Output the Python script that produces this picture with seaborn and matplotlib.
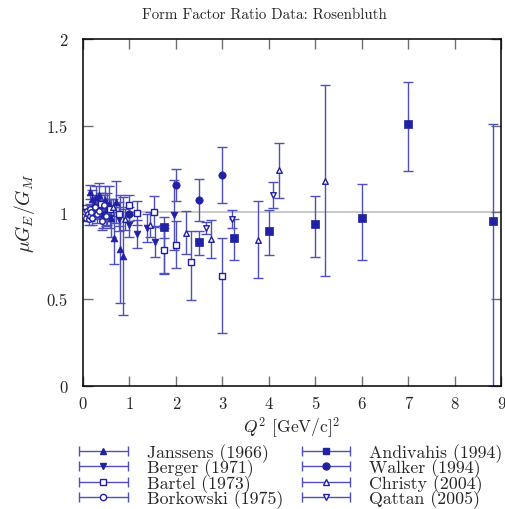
import numpy as np
import pandas as pd
import matplotlib
matplotlib.use("Agg")
import matplotlib.pyplot as plt
import seaborn as sns
from matplotlib.lines import Line2D
from matplotlib.legend_handler import HandlerBase
from matplotlib.ticker import FuncFormatter

# ============================================================
# Data
# ============================================================
janssens_q2 = [0.16, 0.19, 0.23, 0.27, 0.31, 0.35, 0.39, 0.43, 0.47, 0.51, 0.55, 0.60, 0.66, 0.70, 0.79, 0.86]
janssens_r = [1.12, 1.08, 1.05, 1.09, 1.03, 1.10, 1.04, 0.99, 1.07, 1.02, 1.05, 0.97, 0.85, 1.06, 0.79, 0.75]
janssens_lo = [0.04, 0.05, 0.05, 0.06, 0.06, 0.07, 0.07, 0.08, 0.08, 0.09, 0.10, 0.11, 0.15, 0.12, 0.31, 0.34]
janssens_hi = [0.04, 0.05, 0.05, 0.06, 0.06, 0.07, 0.07, 0.08, 0.08, 0.09, 0.10, 0.11, 0.15, 0.12, 0.31, 0.34]

berger_q2 = [0.39, 0.58, 0.78, 1.00, 1.17, 1.37, 1.56, 1.75, 1.95]
berger_r = [1.03, 0.97, 0.96, 0.93, 0.875, 0.91, 0.83, 0.78, 0.985]
berger_lo = [0.05, 0.06, 0.07, 0.07, 0.08, 0.08, 0.09, 0.13, 0.20]
berger_hi = [0.05, 0.06, 0.07, 0.07, 0.08, 0.08, 0.09, 0.13, 0.20]

bartel_q2 = [0.39, 0.58, 0.78, 1.00, 1.17, 1.52, 1.75, 2.00, 2.33, 3.00]
bartel_r = [1.05, 1.02, 0.99, 1.043, 0.995, 1.004, 0.785, 0.814, 0.712, 0.635]
bartel_lo = [0.06, 0.06, 0.07, 0.06, 0.07, 0.09, 0.14, 0.135, 0.22, 0.33]
bartel_hi = [0.06, 0.06, 0.07, 0.06, 0.07, 0.09, 0.14, 0.135, 0.18, 0.22]

borkowski_q2 = [0.02, 0.04, 0.06, 0.08, 0.10, 0.12, 0.14, 0.16, 0.18, 0.20, 0.25, 0.30, 0.35, 0.40, 0.45, 0.50]
borkowski_r = [0.98, 1.00, 0.97, 1.01, 0.99, 0.96, 1.02, 0.98, 1.00, 0.97, 1.03, 0.99, 1.01, 0.95, 1.04, 0.98]
borkowski_lo = [0.02, 0.02, 0.02, 0.03, 0.03, 0.03, 0.03, 0.03, 0.04, 0.04, 0.04, 0.05, 0.05, 0.05, 0.06, 0.06]
borkowski_hi = [0.02, 0.02, 0.02, 0.03, 0.03, 0.03, 0.03, 0.03, 0.04, 0.04, 0.04, 0.05, 0.05, 0.05, 0.06, 0.06]

andivahis_q2 = [1.75, 2.50, 3.25, 4.00, 5.00, 6.00, 7.00, 8.83]
andivahis_r = [0.914, 0.827, 0.851, 0.894, 0.933, 0.968, 1.51, 0.95]
andivahis_lo = [0.06, 0.073, 0.126, 0.138, 0.19, 0.24, 0.273, 0.95]
andivahis_hi = [0.06, 0.068, 0.109, 0.122, 0.162, 0.198, 0.244, 0.56]

walker_q2 = [1.00, 2.00, 2.50, 3.00]
walker_r = [0.99, 1.158, 1.071, 1.217]
walker_lo = [0.04, 0.09, 0.12, 0.16]
walker_hi = [0.04, 0.09, 0.12, 0.16]

christy_q2 = [0.65, 0.90, 1.45, 2.22, 2.76, 3.76, 4.21, 5.22]
christy_r = [1.03, 0.96, 0.93, 0.883, 0.847, 0.843, 1.243, 1.183]
christy_lo = [0.05, 0.06, 0.07, 0.125, 0.11, 0.22, 0.16, 0.55]
christy_hi = [0.05, 0.06, 0.07, 0.125, 0.11, 0.22, 0.16, 0.55]

qattan_q2 = [2.64, 3.20, 4.10]
qattan_r = [0.908, 0.962, 1.100]
qattan_lo = [0.035, 0.05, 0.077]
qattan_hi = [0.035, 0.05, 0.077]

# label, marker, filled
series = [
    ("Janssens (1966)", "^", True, janssens_q2, janssens_r, janssens_lo, janssens_hi),
    ("Berger (1971)", "v", True, berger_q2, berger_r, berger_lo, berger_hi),
    ("Bartel (1973)", "s", False, bartel_q2, bartel_r, bartel_lo, bartel_hi),
    ("Borkowski (1975)", "o", False, borkowski_q2, borkowski_r, borkowski_lo, borkowski_hi),
    ("Andivahis (1994)", "s", True, andivahis_q2, andivahis_r, andivahis_lo, andivahis_hi),
    ("Walker (1994)", "o", True, walker_q2, walker_r, walker_lo, walker_hi),
    ("Christy (2004)", "^", False, christy_q2, christy_r, christy_lo, christy_hi),
    ("Qattan (2005)", "v", False, qattan_q2, qattan_r, qattan_lo, qattan_hi),
]

MARK_COLOR = "#2121a3"
BAR_COLOR = "#5050bb"

# ============================================================
# Style
# ============================================================
sns.set_style("ticks")
plt.rcParams["font.family"] = ["cmr10", "DejaVu Serif"]
plt.rcParams["mathtext.fontset"] = "cm"
plt.rcParams["axes.formatter.use_mathtext"] = True
plt.rcParams["axes.unicode_minus"] = False

fig = plt.figure(figsize=(5.06, 5.10), dpi=100)
ax = fig.add_axes([83 / 506, 1 - 386.8 / 510, (501 - 83) / 506, (386.8 - 40) / 510])

ax.axhline(1.0, color="#c0c0c0", linewidth=1.2, zorder=0)

sizes = {"s": 26, "o": 28, "^": 24, "v": 24}
open_sizes = {"s": 22, "o": 16, "^": 16, "v": 16}

for label, mk, filled, q2, r, lo, hi in series:
    df = pd.DataFrame({"Q2": q2, "ratio": r})
    ax.errorbar(q2, r, yerr=[lo, hi], fmt="none", ecolor=BAR_COLOR,
                elinewidth=1.0, capsize=3.5, capthick=1.0, zorder=2)
    if filled:
        sns.scatterplot(data=df, x="Q2", y="ratio", marker=mk, s=sizes[mk],
                        color=MARK_COLOR, edgecolor=MARK_COLOR, linewidth=0.5,
                        ax=ax, zorder=4, legend=False)
    else:
        sns.scatterplot(data=df, x="Q2", y="ratio", marker=mk, s=open_sizes[mk],
                        facecolor="white", edgecolor=MARK_COLOR, linewidth=1.0,
                        ax=ax, zorder=4, legend=False)

ax.set_xlim(0, 9)
ax.set_ylim(0, 2)
ax.set_xticks(range(0, 10))
ax.set_yticks([0, 0.5, 1, 1.5, 2])
ax.yaxis.set_major_formatter(FuncFormatter(lambda v, p: "%g" % v))
ax.xaxis.set_major_formatter(FuncFormatter(lambda v, p: "%g" % v))
ax.tick_params(axis="both", direction="in", length=7, width=1, color="#707070",
               top=True, right=True, labelsize=12)
ax.tick_params(axis="y", pad=11)
ax.tick_params(axis="x", pad=7)
for sp in ax.spines.values():
    sp.set_visible(True)
    sp.set_linewidth(1.1)
    sp.set_color("black")

ax.set_xlabel(r"$Q^2$ [GeV/c]$^2$", fontsize=12.5, labelpad=2)
ax.set_ylabel(r"$\mu G_E/G_M$", fontsize=14, labelpad=7)
fig.text(264 / 506, 1 - 15 / 510, "Form Factor Ratio Data: Rosenbluth",
         ha="center", va="center", fontsize=10.8)


# gnuplot-like legend keys: horizontal bar with end caps and the marker in the middle
class ErrKeyHandler(HandlerBase):
    def create_artists(self, legend, orig_handle, xdescent, ydescent,
                       width, height, fontsize, trans):
        y = height / 2 - ydescent
        x0, x1 = -xdescent, width - xdescent
        line = Line2D([x0, x1], [y, y], color=BAR_COLOR, lw=1.0)
        caps = Line2D([x0, x1], [y, y], ls="none", marker="|", ms=7,
                      mew=1.0, color=BAR_COLOR)
        filled = orig_handle.get_markerfacecolor() != "white"
        mk = Line2D([(x0 + x1) / 2], [y], ls="none",
                    marker=orig_handle.get_marker(),
                    ms=5 if filled else 4.5,
                    mfc=MARK_COLOR if filled else "white",
                    mec=MARK_COLOR, mew=1.0)
        for a in (line, caps, mk):
            a.set_transform(trans)
        return [line, caps, mk]


handles = []
labels = []
for label, mk, filled, *_ in series:
    handles.append(Line2D([], [], marker=mk,
                          markerfacecolor=MARK_COLOR if filled else "white"))
    labels.append(label)

fig.legend(handles, labels, ncol=2, loc="upper left",
           bbox_to_anchor=(79 / 506, 1 - 444 / 510),
           bbox_transform=fig.transFigure, frameon=False,
           prop={"size": 12.8}, handlelength=2.75, handletextpad=1.05,
           columnspacing=1.05, labelspacing=-0.18, borderpad=0, borderaxespad=0,
           handler_map={Line2D: ErrKeyHandler()})

fig.savefig("out.png", dpi=100)
